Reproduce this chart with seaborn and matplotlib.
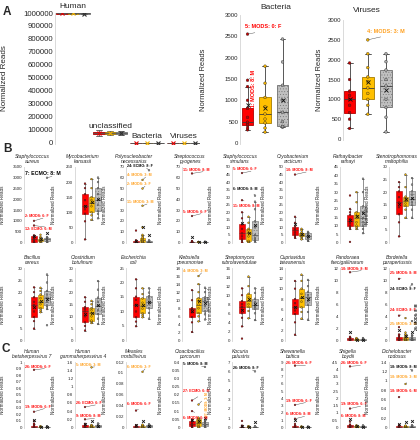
import numpy as np
import pandas as pd
import matplotlib
matplotlib.use("Agg")
import matplotlib.pyplot as plt
from matplotlib.colors import to_rgba
import seaborn as sns

# ---------------- colours / groups ----------------
group_names = ["6", "3", "8"]
group_colors = ["#ff0000", "#ffc000", "#c0c0c0"]
edge_colors = ["#b00000", "#a67c00", "#6e6e6e"]
point_colors = ["#c00000", "#f0b000", "#a8a8a8"]
note_colors = {"r": "#ff0000", "o": "#ffa01e", "k": "#000000"}

# ---------------- panel A data ----------------
a_categories = ["Human", "unclassified", "Bacteria", "Viruses"]
a_human = ([992000, 994500, 996000, 997000, 998000, 998800, 999400],
           [993000, 995000, 996500, 997500, 998200, 999000, 999500],
           [991000, 994000, 995500, 996800, 997800, 998600, 999300])
a_unclassified = ([55000, 65000, 72000, 78000, 84000, 90000, 98000],
                  [58000, 66000, 71000, 76000, 82000, 88000, 95000],
                  [60000, 68000, 73000, 77000, 81000, 86000, 92000])
bact_red = [309, 350, 410, 440, 487, 600, 812, 1000, 1322]
bact_gold = [255, 350, 472, 560, 680, 850, 1067, 1400, 1800]
bact_gray = [371, 380, 387, 500, 719, 1000, 1353, 1900, 2436]
bact_out = [(0, 1470), (0, 2552)]
vir_red = [267, 500, 667, 850, 1000, 1100, 1208, 1500, 1917]
vir_gold = [625, 850, 1000, 1150, 1290, 1450, 1567, 1800, 2150]
vir_gray = [180, 550, 795, 1000, 1340, 1500, 1740, 1950, 2150]
vir_out = [(1, 2500)]
bact_notes = [(0, 2552, "5: MODS: 0: F", "r", 2720, -0.15, False),
              (0, 1470, "11: MODS: 8: M", "r", 1250, 0.33, True)]
vir_notes = [(1, 2500, "4: MODS: 3: M", "o", 2720, 0.95, False)]

# ---------------- panels B / C data ----------------
titles = ["Staphylococcus\naureus", "Mycobacterium\nkansasii", "Polynucleobacter\nnecessarius",
          "Streptococcus\npyogenes", "Staphylococcus\nsimulans", "Cryobacterium\narcticum",
          "Rathayibacter\nrathayi", "Stenotrophomonas\nmaltophilia",
          "Bacillus\ncereus", "Clostridium\nbotulinum", "Escherichia\ncoli", "Klebsiella\npneumoniae",
          "Streptomyces\nrubrolavendulae", "Cupriavidus\ntaiwanensis", "Pandoraea\nfaecigallinarum",
          "Bordetella\nparapertussis",
          "Human\nbetaherpesvirus 7", "Human\ngammaherpesvirus 4", "Measles\nmorbillivirus",
          "Cloacibacillus\nporcorum", "Kocuria\npalustris", "Shewanella\nbaltica",
          "Shigella\nboydii", "Dichelobacter\nnodosus"]
y_max = [3500, 250, 70, 70, 50, 50, 45, 30,
         30, 30, 25, 18, 16, 14, 12, 12,
         1, 1.6, 0.12, 0.4, 7, 9, 4.5, 1.4]
y_step = [500, 50, 10, 10, 5, 5, 5, 5,
          5, 5, 5, 2, 2, 2, 2, 2,
          0.1, 0.2, 0.02, 0.05, 1, 1, 0.5, 0.2]
red_vals = [
    [0, 10, 30, 80, 150, 220, 280, 300, 330],
    [10, 70, 95, 110, 120, 140, 160, 180, 195],
    [0, 0, 0, 0.2, 0.4, 0.6, 1, 1.5, 2],
    [0, 0, 0, 0, 0, 0, 0, 0, 0, 0.1, 0.1, 0.2, 0.2, 0.3, 0.5, 0.8, 1.0, 1.2],
    [0, 1, 2, 4, 6, 9, 12, 16, 20],
    [3, 4, 5, 6.5, 8, 9, 10.5, 13, 17],
    [8, 9, 10, 11.5, 12.5, 14, 16.5, 18, 20],
    [2.4, 8, 11.2, 14, 15.9, 18, 20.3, 22, 24],
    [4.9, 8, 9.7, 12, 14.7, 16, 17.9, 20, 22],
    [4.1, 6, 7.5, 10, 12, 13, 13.8, 16, 17.9],
    [4.9, 6.5, 8, 10, 12.3, 14, 15.1, 18, 21.1],
    [2.1, 4.5, 5.8, 7, 7.8, 7.9, 8, 10, 12.5],
    [3.1, 5, 6, 6.8, 7.4, 8, 8.7, 10, 11.5],
    [1.1, 3.5, 5.1, 5.8, 6.4, 7.2, 8, 10, 11.5],
    [0, 0, 0.05, 0.1, 0.2, 0.3, 0.4, 0.5, 0.6],
    [0, 0, 0.1, 0.2, 0.3, 0.4, 0.6, 0.8, 1],
    [0, 0, 0, 0, 0.01, 0.02, 0.03, 0.05, 0.06],
    [0, 0, 0, 0.01, 0.02, 0.03, 0.05, 0.07, 0.09],
    [0, 0, 0, 0, 0.0005, 0.001, 0.002, 0.003, 0.004],
    [0, 0.005, 0.01, 0.015, 0.02, 0.03, 0.04, 0.045, 0.05],
    [0, 0, 0, 0.02, 0.05, 0.08, 0.1, 0.15, 0.2],
    [0, 0, 0.02, 0.05, 0.08, 0.1, 0.15, 0.2, 0.3],
    [0, 0.02, 0.05, 0.08, 0.1, 0.12, 0.15, 0.18, 0.2],
    [0, 0, 0.005, 0.01, 0.015, 0.02, 0.03, 0.04, 0.05],
]
gold_vals = [
    [20, 40, 60, 80, 100, 120, 150, 200, 250],
    [75, 90, 100, 120, 130, 140, 150, 180, 210],
    [0, 0.5, 0.8, 1.5, 2.5, 3.5, 4.5, 6, 7],
    [0, 0, 0, 0.1, 0.1, 0.2, 0.3, 0.4, 0.5],
    [0, 0.5, 1, 4, 6.5, 8, 9, 13, 17],
    [2, 3, 4, 4.5, 5, 6, 6.5, 8, 9],
    [8, 9, 10, 12, 14.5, 16, 18, 24, 30],
    [9.8, 13, 14.5, 15.5, 16.6, 17.5, 18.2, 22, 27],
    [11.7, 12.5, 13.4, 15, 16, 17.5, 19, 20.5, 21.8],
    [7.2, 7.8, 8.2, 10, 11.3, 12.5, 13.4, 15, 16.4],
    [8, 8.7, 9.4, 11, 12, 13, 14.5, 16, 18],
    [4.75, 6, 6.8, 8, 8.9, 9.8, 10.5, 12, 14],
    [4.9, 6.5, 7.4, 8, 8.7, 9.5, 10.3, 12, 14.1],
    [4.2, 5.5, 6.4, 7.5, 8.2, 9, 10, 11.5, 12.7],
    [0, 0, 0.05, 0.1, 0.1, 0.2, 0.2, 0.3, 0.4],
    [0, 0, 0.1, 0.2, 0.3, 0.4, 0.6, 0.8, 1],
    [0, 0, 0, 0, 0, 0.005, 0.01, 0.015, 0.02],
    [0, 0, 0, 0.01, 0.02, 0.03, 0.04, 0.05, 0.06],
    [0, 0, 0, 0.0005, 0.001, 0.002, 0.003, 0.004, 0.005],
    [0, 0.005, 0.01, 0.02, 0.03, 0.04, 0.05, 0.055, 0.06],
    [0, 0, 0, 0.01, 0.03, 0.05, 0.08, 0.1, 0.15],
    [0, 0, 0.01, 0.02, 0.04, 0.06, 0.08, 0.1, 0.15],
    [0, 0.01, 0.03, 0.05, 0.07, 0.09, 0.1, 0.12, 0.15],
    [0, 0, 0.005, 0.01, 0.015, 0.02, 0.025, 0.03, 0.04],
]
gray_vals = [
    [20, 50, 80, 120, 150, 180, 200, 220, 250],
    [80, 95, 105, 125, 140, 160, 180, 200, 215],
    [0, 0, 0.2, 0.3, 0.5, 0.7, 1, 1.5, 2],
    [0, 0, 0, 0.1, 0.2, 0.3, 0.4, 0.5, 0.6],
    [0, 1, 1.6, 3, 5, 10, 14, 22, 27],
    [1, 1.5, 2, 3, 4, 5, 6, 6.5, 7],
    [5.5, 8, 10, 12, 14.5, 18, 21.5, 30, 38],
    [9.8, 13, 15, 16, 17.2, 19, 20.3, 23, 25.6],
    [13, 14, 14.5, 16, 17.7, 19, 20.5, 24, 27.3],
    [6.8, 9, 10.9, 12.5, 14.3, 16, 17.7, 21, 24.6],
    [7.5, 9.5, 11.1, 12.5, 13.4, 14.5, 15.3, 16.5, 18],
    [5.2, 6.5, 7.2, 8.5, 9.7, 10.2, 10.7, 12, 13.1],
    [4.5, 6, 7, 7.4, 7.8, 8.5, 9.2, 10.5, 11.5],
    [4, 5.5, 6.9, 7.6, 8.3, 8.8, 9.4, 10.5, 11.7],
    [0, 0, 0, 0.05, 0.1, 0.1, 0.2, 0.3, 0.4],
    [0, 0, 0.1, 0.2, 0.3, 0.4, 0.5, 0.7, 0.9],
    [0, 0, 0, 0, 0.005, 0.01, 0.012, 0.015, 0.02],
    [0, 0, 0.01, 0.02, 0.03, 0.04, 0.06, 0.08, 0.1],
    [0, 0, 0, 0.001, 0.002, 0.003, 0.004, 0.005, 0.006],
    [0, 0.005, 0.01, 0.015, 0.02, 0.03, 0.035, 0.04, 0.045],
    [0, 0, 0, 0.01, 0.03, 0.05, 0.07, 0.1, 0.12],
    [0, 0, 0.01, 0.02, 0.03, 0.05, 0.07, 0.09, 0.12],
    [0, 0.01, 0.03, 0.05, 0.06, 0.08, 0.1, 0.12, 0.14],
    [0, 0, 0.005, 0.01, 0.02, 0.025, 0.03, 0.04, 0.05],
]
outliers = [
    [(2, 3000), (0, 1000), (0, 785), (1, 353)],
    [],
    [(0, 11), (1, 14), (1, 34), (1, 50), (1, 58), (2, 67)],
    [(0, 64), (0, 24.5)],
    [(0, 28), (0, 46), (2, 31)],
    [(0, 45)],
    [(0, 28), (0, 0.3)],
    [],
    [(2, 6.3)],
    [],
    [],
    [(1, 16)],
    [(0, 0.4)],
    [],
    [(0, 11.3)],
    [(0, 10.2), (0, 4.1), (0, 2.2), (1, 3.7), (1, 1.3), (2, 9.3), (2, 3.2)],
    [(0, 0.88), (0, 0.24), (0, 0.1)],
    [(1, 1.47), (0, 0.5), (0, 0.2)],
    [(1, 0.102), (0, 0.031)],
    [(2, 0.37), (0, 0.165), (0, 0.1), (1, 0.14)],
    [(2, 6.0), (0, 0.7)],
    [(0, 8.5), (0, 3.1), (0, 1.2), (0, 0.5)],
    [(0, 4.2), (0, 1.3), (0, 0.4)],
    [(2, 1.22), (1, 0.93), (0, 0.65)],
]
notes = [
    [(2, 3000, "7: ECMO: 8: M", "k", 3180, None, False, 3.8),
     (0, 1000, "2: MODS: 6: F", "r", 1220, None, False),
     (0, 785, "12: ECMO: 6: M", "r", 620, None, False)],
    [],
    [(2, 67, "24: ECMO: 8: F", "k", 70.8, None, False),
     (1, 58, "4: MODS: 3: M", "o", 62.5, None, False),
     (1, 50, "2: MODS: 3: F", "o", 54, None, False),
     (1, 34, "11: MODS: 3: M", "o", 37.5, None, False)],
    [(0, 64, "11: MODS: 8: M", "r", 67.5, None, False),
     (0, 24.5, "5: MODS: 6: F", "r", 28.5, None, False)],
    [(0, 46, "5: MODS: 6: F", "r", 48.5, None, False),
     (2, 31, "6: MODS: 8: M", "k", 35.5, None, False),
     (0, 28, "11: MODS: 8: M", "r", 24, None, False)],
    [(0, 45, "10: MODS: 8: M", "r", 48, None, False)],
    [], [], [], [], [],
    [(1, 16, "4: MODS: 3: M", "o", 17.3, None, False)],
    [], [],
    [(0, 11.3, "10: MODS: 8: M", "r", 11.9, None, False)],
    [(0, 10.2, "25: MODS: 8: M", "r", 11.2, None, False),
     (2, 9.3, "24: ECMO: 8: F", "k", 8.5, None, False),
     (0, 4.1, "24: ECMO: 8: F", "r", 5.1, None, False),
     (1, 3.7, "25: MODS: 3: M", "o", 2.8, None, False),
     (2, 3.2, "26: MODS: 8: M", "k", 4.0, 2.82, True)],
    [(0, 0.88, "26: MODS: 6: F", "r", 0.93, None, False),
     (0, 0.24, "19: MODS: 6: F", "r", 0.32, None, False)],
    [(1, 1.47, "5: MODS: 3: M", "o", 1.53, None, False),
     (0, 0.5, "26: ECMO: 6: F", "r", 0.6, None, False),
     (0, 0.2, "9: MODS: 8: M", "r", 0.27, None, False)],
    [(1, 0.102, "6: MODS: 3: F", "o", 0.111, None, False),
     (0, 0.031, "6: MODS: 6: F", "r", 0.043, None, False)],
    [(2, 0.37, "5: MODS: 8: M", "k", 0.385, None, False),
     (0, 0.165, "27: ECMO: 6: M", "r", 0.22, None, False),
     (0, 0.1, "6: MODS: 6: M", "r", 0.06, None, False),
     (1, 0.14, "27: MODS: 3: M", "o", 0.14, 2.3, True, 2.3)],
    [(2, 6.0, "26: MODS: 8: F", "k", 6.35, None, False)],
    [(0, 8.5, "26: MODS: 6: F", "r", 8.8, None, False),
     (0, 3.1, "19: MODS: 6: F", "r", 3.7, None, False),
     (0, 1.2, "6: MODS: 8: M", "r", 1.8, None, False)],
    [(0, 4.2, "26: MODS: 6: F", "r", 4.4, None, False),
     (0, 1.3, "19: MODS: 6: F", "r", 1.6, None, False),
     (0, 0.4, "6: MODS: 8: M", "r", 0.78, None, False)],
    [(2, 1.22, "18: MODS: 8: M", "k", 1.29, None, False),
     (1, 0.93, "18: MODS: 3: M", "o", 1.07, None, False),
     (0, 0.65, "18: MODS: 6: M", "r", 0.77, None, False)],
]

# ---------------- style ----------------
sns.set_style("white")
plt.rcParams["font.family"] = ["Liberation Sans", "DejaVu Sans"]
plt.rcParams["hatch.linewidth"] = 0.3

W, H = 420, 440
fig = plt.figure(figsize=(W / 100, H / 100), dpi=100)


def px_axes(left, top, width, height):
    return fig.add_axes([left / W, 1 - (top + height) / H, width / W, height / H])


def style_axis(ax, ymax, ystep, fs, int_labels=False):
    ax.set_ylim(-ymax * 0.008, ymax)
    ticks = np.round(np.arange(0, ymax + ystep / 2, ystep), 6)
    ax.set_yticks(ticks)
    ax.set_yticklabels([f"{t:g}" if not int_labels else f"{int(t)}" for t in ticks], fontsize=fs)
    ax.tick_params(axis="y", length=0, pad=1.2)
    ax.set_xticks([])
    ax.set_xlabel("")
    for s in ["top", "right", "bottom"]:
        ax.spines[s].set_visible(False)
    ax.spines["left"].set_color("#d4d4d4")
    ax.spines["left"].set_linewidth(0.6)


def recolor_patches(ax, hatch="......"):
    for p in ax.patches:
        fc = p.get_facecolor()
        for gi, c in enumerate(group_colors):
            if np.allclose(fc[:3], to_rgba(c)[:3], atol=0.02):
                p.set_edgecolor(edge_colors[gi])
                if gi == 2:
                    p.set_hatch(hatch)


def draw_boxes(ax, core, outl, width, lw, pt_size, mean_ms):
    rows = [(group_names[g], v) for g in range(3) for v in core[g]]
    df_core = pd.DataFrame(rows, columns=["grp", "val"])
    sns.boxplot(data=df_core, x="grp", y="val", hue="grp", order=group_names,
                hue_order=group_names, palette=group_colors, saturation=1,
                width=width, whis=(0, 100), showfliers=False, linewidth=lw,
                linecolor="#3c3c3c", dodge=False, legend=False, ax=ax)
    recolor_patches(ax)
    rows_all = rows + [(group_names[g], v) for g, v in outl]
    df_all = pd.DataFrame(rows_all, columns=["grp", "val"])
    sns.stripplot(data=df_all, x="grp", y="val", hue="grp", order=group_names,
                  hue_order=group_names, palette=point_colors, jitter=False,
                  size=pt_size, linewidth=0.25, edgecolor="#202020", dodge=False,
                  legend=False, ax=ax, zorder=3)
    for g in range(3):
        vals = list(core[g]) + [v for gg, v in outl if gg == g]
        ax.plot(g, np.mean(vals), marker="x", ms=mean_ms, mew=0.6,
                color="#111111", zorder=4)


def add_notes(ax, nts, fs, default_tx):
    for nt in nts:
        g, v, txt, ck, ty, tx, rot = nt[:7]
        size = nt[7] if len(nt) > 7 else fs
        x_text = default_tx if tx is None else tx
        if rot:
            ha, va, rp = "center", "center", (0.0, 0.8)
        else:
            ha, va = "left", "center"
            rp = (0.75, 0.0) if ty >= v else (0.75, 1.0)
        ax.annotate(txt, xy=(g, v), xytext=(x_text, ty), textcoords="data",
                    color=note_colors[ck], fontsize=size, fontweight="bold",
                    ha=ha, va=va, rotation=90 if rot else 0,
                    arrowprops=dict(arrowstyle="-", color="#404040", lw=0.3,
                                    shrinkA=0, shrinkB=0.6, relpos=rp),
                    annotation_clip=False, zorder=5)


# ---------------- Panel A (left): all categories ----------------
axA = px_axes(55, 13, 145, 131)
a_groups = [a_human, a_unclassified, (bact_red, bact_gold, bact_gray), (vir_red, vir_gold, vir_gray)]
rowsA = []
for cat, groups in zip(a_categories, a_groups):
    for gi, vals in enumerate(groups):
        for v in vals:
            rowsA.append((cat, group_names[gi], v))
dfA = pd.DataFrame(rowsA, columns=["cat", "grp", "val"])
sns.boxplot(data=dfA, x="cat", y="val", hue="grp", order=a_categories, hue_order=group_names,
            palette=group_colors, saturation=1, width=0.9, gap=0, whis=(0, 100),
            showfliers=False, linewidth=0.6, linecolor="#555555", legend=False, ax=axA)
recolor_patches(axA)
mean_cols = ["#e00000", "#f0b000", "#303030"]
for ci, groups in enumerate(a_groups):
    for gi, vals in enumerate(groups):
        axA.plot(ci + (gi - 1) * 0.3, np.mean(vals), marker="x", ms=3.2, mew=0.8,
                 color=mean_cols[gi], zorder=4)
style_axis(axA, 1000000, 100000, 5.6, int_labels=True)
axA.set_xlim(-0.49, 3.43)
axA.set_ylabel("Normalized Reads", fontsize=5.8)
axA.yaxis.set_label_coords(-47 / 145, 0.5)
label_y = [1020000, 98000, 22000, 22000]
for ci, (cat, ly) in enumerate(zip(a_categories, label_y)):
    axA.text(ci, ly, cat, ha="center", va="bottom", fontsize=6, clip_on=False)

# ---------------- Panel A: Bacteria ----------------
axB = px_axes(240, 15, 56, 129)
draw_boxes(axB, (bact_red, bact_gold, bact_gray), bact_out, 0.65, 0.6, 2.0, 3.2)
style_axis(axB, 3000, 500, 4.3)
axB.set_xlim(-0.43, 2.77)
axB.set_ylabel("Normalized Reads", fontsize=5.4)
axB.yaxis.set_label_coords(-33 / 56, 0.5)
axB.text(0.64, 1 + 4 / 129, "Bacteria", transform=axB.transAxes, ha="center",
         va="bottom", fontsize=6)
add_notes(axB, bact_notes, 4.0, -0.15)

# ---------------- Panel A: Viruses ----------------
axV = px_axes(343, 20, 57, 120)
draw_boxes(axV, (vir_red, vir_gold, vir_gray), vir_out, 0.65, 0.6, 2.0, 3.2)
style_axis(axV, 3000, 500, 4.3)
axV.set_xlim(-0.36, 2.77)
axV.set_ylabel("Normalized Reads", fontsize=5.4)
axV.yaxis.set_label_coords(-20 / 57, 0.5)
axV.text(0.42, 1 + 6 / 120, "Viruses", transform=axV.transAxes, ha="center",
         va="bottom", fontsize=6)
add_notes(axV, vir_notes, 4.0, 0.95)

# ---------------- Panels B / C: small multiples ----------------
col_left = [24, 75, 126, 182, 232, 285, 340, 389]
row_top = [167, 268, 362]
row_h = [76, 73, 66]
ax_w = 29
unit_px = 6.5
x_lo = -10 / unit_px
x_hi = (ax_w - 10) / unit_px

for i in range(24):
    r, c = divmod(i, 8)
    ax = px_axes(col_left[c], row_top[r], ax_w, row_h[r])
    draw_boxes(ax, (red_vals[i], gold_vals[i], gray_vals[i]), outliers[i], 0.85, 0.4, 1.3, 2.0)
    style_axis(ax, y_max[i], y_step[i], 3.2)
    ax.set_xlim(x_lo, x_hi)
    ax.set_ylabel("Normalized Reads", fontsize=3.3)
    ax.yaxis.set_label_coords(-19 / ax_w, 0.5)
    ax.text(8 / ax_w, 1 + 3 / row_h[r], titles[i], transform=ax.transAxes, ha="center",
            va="bottom", fontsize=3.6, style="italic", linespacing=1.1)
    add_notes(ax, notes[i], 2.6, x_lo + 1.2 / unit_px)

# ---------------- panel letters ----------------
fig.text(3 / W, 1 - 12 / H, "A", fontsize=8.5, fontweight="bold", va="center", ha="left")
fig.text(3 / W, 1 - 149 / H, "B", fontsize=8.5, fontweight="bold", va="center", ha="left")
fig.text(1 / W, 1 - 349 / H, "C", fontsize=8.5, fontweight="bold", va="center", ha="left")

fig.savefig("out.png", dpi=100, facecolor="white")
